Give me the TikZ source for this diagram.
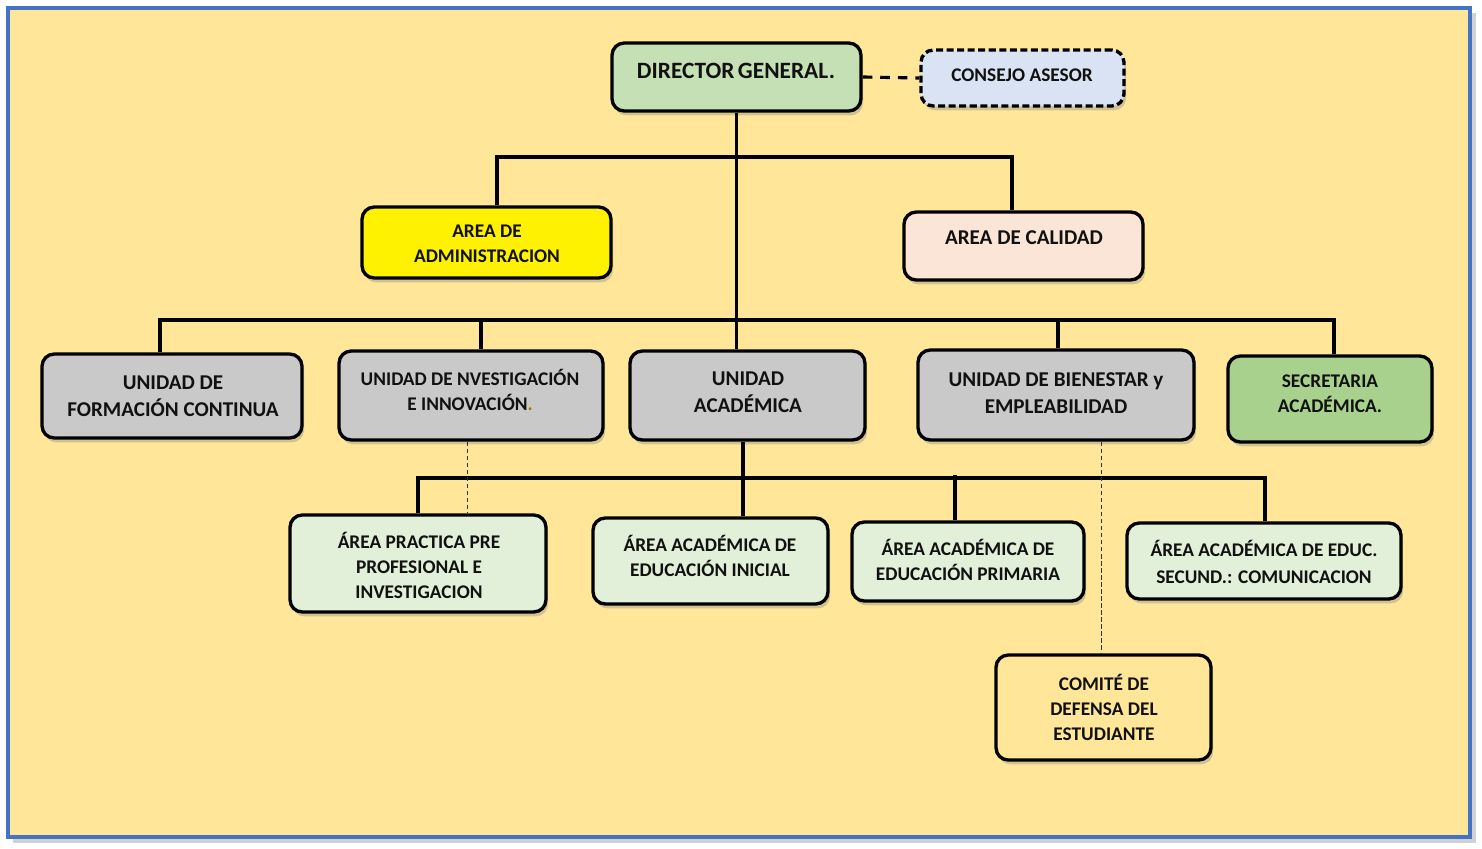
\documentclass[tikz,border=0pt]{standalone}
\usepackage{fontspec}
\setmainfont{Carlito}
\usetikzlibrary{shadows,fit}
\definecolor{bg}{HTML}{FFE699}
\definecolor{framec}{HTML}{4472C4}
\definecolor{dirg}{HTML}{C5E0B4}
\definecolor{cons}{HTML}{DAE3F3}
\definecolor{calid}{HTML}{FBE5D6}
\definecolor{unid}{HTML}{C9C9C9}
\definecolor{secr}{HTML}{A9D18E}
\definecolor{areab}{HTML}{E2F0D9}
\definecolor{dotc}{HTML}{A67C00}
\definecolor{ink}{HTML}{111111}
\begin{document}
\begin{tikzpicture}[x=0.02cm,y=-0.02cm,
 box/.style={draw=black, line width=1.9pt, rounded corners=7pt, inner sep=0pt,
   drop shadow={shadow xshift=1.2pt, shadow yshift=-2.5pt, opacity=0.35}},
 txt/.style={font=\bfseries\fontsize{11}{14.2}\selectfont, align=center, text=ink, inner sep=0pt},
 txtL/.style={font=\bfseries\fontsize{12}{15.6}\selectfont, align=center, text=ink, inner sep=0pt},
 txtX/.style={font=\bfseries\fontsize{13.3}{15}\selectfont, align=center, text=ink, inner sep=0pt},
 conn/.style={line width=1.8pt, draw=black},
 thinc/.style={line width=0.5pt, draw=black!80, dash pattern=on 2.5pt off 1.5pt},
]
\useasboundingbox (0,0) rectangle (1482,849);
% frame
\fill[black!18] (13,13) rectangle (1476,843);
\draw[line width=2.3pt, draw=framec, fill=bg] (8,8) rectangle (1470,837);

% boxes
\node[box, fill=dirg, fit={(612,43)(861,111)}] (dir) {};
\node[box, fill=cons, dash pattern=on 4pt off 2pt, fit={(921,50)(1124,106)}] (cons) {};
\node[box, fill=yellow, fit={(362,207)(611,278)}] (adm) {};
\node[box, fill=calid, fit={(904,212)(1143,280)}] (cal) {};
\node[box, fill=unid, fit={(42,354)(302,438)}] (ufc) {};
\node[box, fill=unid, fit={(339,351)(603,440)}] (uinv) {};
\node[box, fill=unid, fit={(630,351)(865,440)}] (uaca) {};
\node[box, fill=unid, fit={(918,350)(1194,440)}] (ubien) {};
\node[box, fill=secr, fit={(1228,356)(1432,442)}] (secr) {};
\node[box, fill=areab, fit={(290,515)(546,612)}] (aprac) {};
\node[box, fill=areab, fit={(593,518)(828,604)}] (aini) {};
\node[box, fill=areab, fit={(852,522)(1084,601)}] (aprim) {};
\node[box, fill=areab, fit={(1127,523)(1401,599)}] (asec) {};
\node[box, fill=bg, fit={(996,655)(1211,760)}] (comite) {};

% texts
\node[txtX] (tdir) at (736,71) {DIRECTOR\hspace{0.15em}GENERAL.};
\node[txt] (tcons) at (1022,75) {CONSEJO ASESOR};
\node[txt] (tadm) at (487,244) {AREA DE\\ADMINISTRACION};
\node[txt, font=\bfseries\fontsize{12}{14}\selectfont] (tcal) at (1024,238) {AREA DE CALIDAD};
\node[txtL] (tufc) at (173,396) {UNIDAD DE\\FORMACIÓN CONTINUA};
\node[txt] (tuinv) at (470,389.5) {UNIDAD DE NVESTIGACIÓN\\E INNOVACIÓN{\color{dotc}.}};
\node[txtL] (tuaca) at (748,392.5) {UNIDAD\\ACADÉMICA};
\node[txtL] (tubien) at (1056,393) {UNIDAD DE BIENESTAR y\\EMPLEABILIDAD};
\node[txt] (tsecr) at (1330,394) {SECRETARIA\\ACADÉMICA.};
\node[txt] (taprac) at (419,565.5) {ÁREA PRACTICA PRE\\PROFESIONAL E\\INVESTIGACION};
\node[txt] (taini) at (710,556) {ÁREA ACADÉMICA DE\\EDUCACIÓN INICIAL};
\node[txt] (taprim) at (968,560) {ÁREA ACADÉMICA DE\\EDUCACIÓN PRIMARIA};
\node[txt, font=\bfseries\fontsize{11}{15.3}\selectfont] (tasec) at (1264,562) {ÁREA ACADÉMICA DE EDUC.\\SECUND.: COMUNICACION};
\node[txt] (tcom) at (1104,707) {COMITÉ DE\\DEFENSA DEL\\ESTUDIANTE};

% coordinates
\coordinate (b1) at (497,157);
\coordinate (b2) at (1012,157);
\coordinate (c1) at (160,320);
\coordinate (c2) at (481,320);
\coordinate (c4) at (1058,320);
\coordinate (c5) at (1334,320);
\coordinate (d1) at (418,478);
\coordinate (d2) at (743,478);
\coordinate (d3) at (955,475);
\coordinate (d4) at (1265,478);
\coordinate (e1) at (467,470);
\coordinate (e2) at (1101,500);

% connectors
\draw[line width=1.8pt, dash pattern=on 5.5pt off 4.5pt] (dir.east) -- (cons.west);
\draw[conn] (dir.south) -- (dir.south |- uaca.north);
\draw[conn] (adm.north -| b1) -- (b1) -- (b2) -- (b2 |- cal.north);
\draw[conn] (c1 |- ufc.north) -- (c1) -- (c5) -- (c5 |- secr.north);
\draw[conn] (c2) -- (c2 |- uinv.north);
\draw[conn] (c4) -- (c4 |- ubien.north);
\draw[conn] (d2 |- uaca.south) -- (d2 |- aini.north);
\draw[conn] (d1 |- aprac.north) -- (d1) -- (d4) -- (d4 |- asec.north);
\draw[conn] (d3) -- (d3 |- aprim.north);
\draw[thinc] (e1 |- uinv.south) -- (e1 |- aprac.north);
\draw[thinc] (e2 |- ubien.south) -- (e2 |- comite.north);
\end{tikzpicture}
\end{document}
